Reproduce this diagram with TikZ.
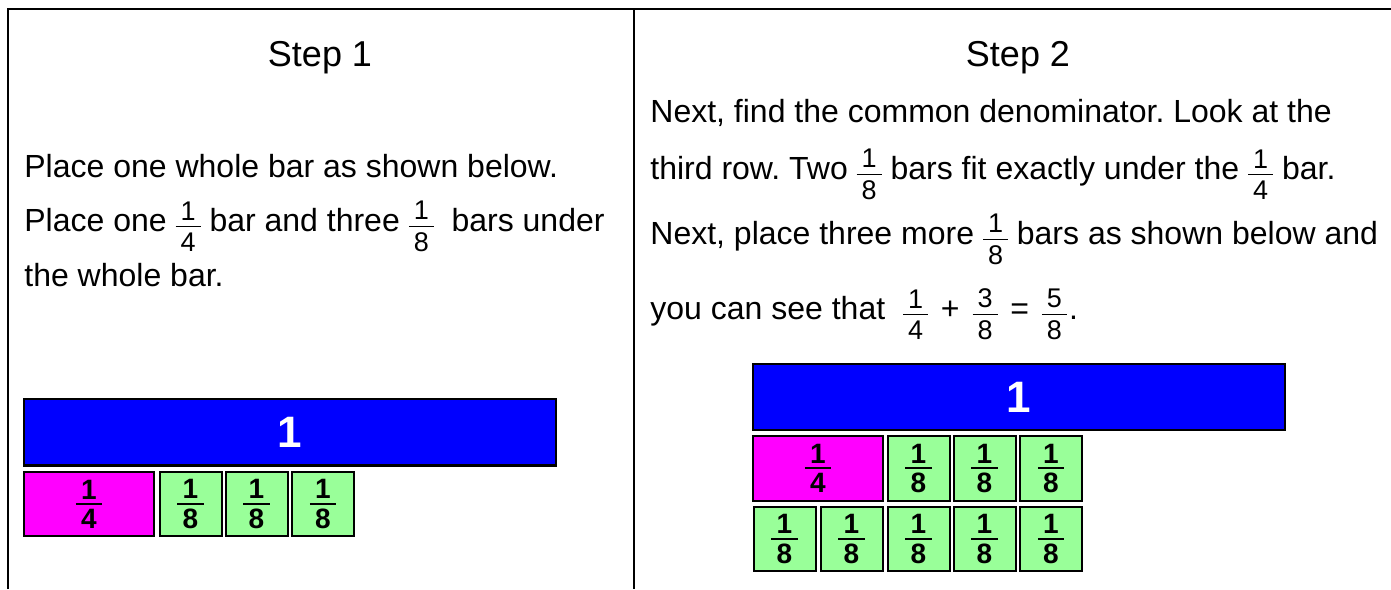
\documentclass[tikz,border=0pt]{standalone}
\usepackage{fontspec}
\setmainfont{Liberation Sans}
\frenchspacing
\definecolor{wholeblue}{RGB}{0,0,255}
\definecolor{quarterpink}{RGB}{255,0,255}
\definecolor{eighthgreen}{RGB}{153,255,153}
\newcommand\fr[2]{\raisebox{-10pt}{\fontsize{13.5}{13.5}\selectfont\vbox{\offinterlineskip\halign{\hfil\kern2.5pt##\kern2.5pt\hfil\cr#1\cr\noalign{\kern3pt\hrule height0.7pt\kern3pt}#2\cr}}}}
\newcommand\bfr[2]{\fontsize{14}{14}\selectfont\bfseries\vbox{\offinterlineskip\halign{\hfil\kern2.7pt##\kern2.7pt\hfil\cr#1\cr\noalign{\kern2pt\hrule height1pt\kern2pt}#2\cr}}}
\tikzset{
	wholebar/.style={draw=black,line width=1pt,fill=wholeblue,text=white,inner sep=0pt,minimum width=266pt,minimum height=33pt,font=\fontsize{22}{22}\selectfont\bfseries},
	quarterbar/.style={draw=black,line width=1pt,fill=quarterpink,inner sep=0pt,minimum width=65pt,minimum height=32pt},
	eighthbar/.style={draw=black,line width=1pt,fill=eighthgreen,inner sep=0pt,minimum width=31pt,minimum height=32pt},
	steptitle/.style={anchor=base,inner sep=0pt,font=\fontsize{18}{18}\selectfont},
	bodyline/.style={anchor=base west,inner sep=0pt,font=\fontsize{16}{19}\selectfont}
}
\begin{document}
\begin{tikzpicture}[x=0.5pt,y=0.5pt]
			\useasboundingbox (0,0) rectangle (1391,589);
			\draw [line width=1pt] (8,0) -- (8,580) -- (1391,580);
			\draw [line width=1pt] (634,580) -- (634,0);

			\node [steptitle] (title1) at (320,522) {Step 1};
			\node [bodyline] (left1) at (24,411) {Place one whole bar as shown below.};
			\node [bodyline] (left2) at (24,357) {Place one \fr{1}{4} bar and three \fr{1}{8}\ \ bars under};
			\node [bodyline] (left3) at (24,302) {the whole bar.};

			\node [wholebar] (whole1) at (290,156.5) {1};
			\node [quarterbar] (quarter1) at (89,85) {\bfr{1}{4}};
			\node [eighthbar] (eighth1a) at (190.5,85) {\bfr{1}{8}};	\node [eighthbar] (eighth1b) at (256.5,85) {\bfr{1}{8}};	\node [eighthbar] (eighth1c) at (323,85) {\bfr{1}{8}};

			\node [steptitle] (title2) at (1018,522) {Step 2};
			\node [bodyline] (right1) at (650,466) {Next, find the common denominator. Look at the};
			\node [bodyline] (right2) at (650,409) {third row. Two \fr{1}{8} bars fit exactly under the \fr{1}{4} bar.};
			\node [bodyline] (right3) at (650,344) {Next, place three more \fr{1}{8} bars as shown below and};
			\node [bodyline] (right4) at (650,269) {you can see that\ \ \fr{1}{4}\hspace{2pt} + \hspace{2pt}\fr{3}{8}\hspace{2pt} = \hspace{2pt}\fr{5}{8}\hspace{1pt}.};

			\node [wholebar] (whole2) at (1018.5,191.5) {1};
			\node [quarterbar] (quarter2) at (818,120.5) {\bfr{1}{4}};
			\node [eighthbar] (eighth2a) at (918.5,120.5) {\bfr{1}{8}};	\node [eighthbar] (eighth2b) at (984.5,120.5) {\bfr{1}{8}};	\node [eighthbar] (eighth2c) at (1051,120.5) {\bfr{1}{8}};
			\node [eighthbar] (eighth3a) at (784.5,50) {\bfr{1}{8}};	\node [eighthbar] (eighth3b) at (851.5,50) {\bfr{1}{8}};	\node [eighthbar] (eighth3c) at (918.5,50) {\bfr{1}{8}};
			\node [eighthbar] (eighth3d) at (984.5,50) {\bfr{1}{8}};	\node [eighthbar] (eighth3e) at (1051,50) {\bfr{1}{8}};
		\end{tikzpicture}
\end{document}
